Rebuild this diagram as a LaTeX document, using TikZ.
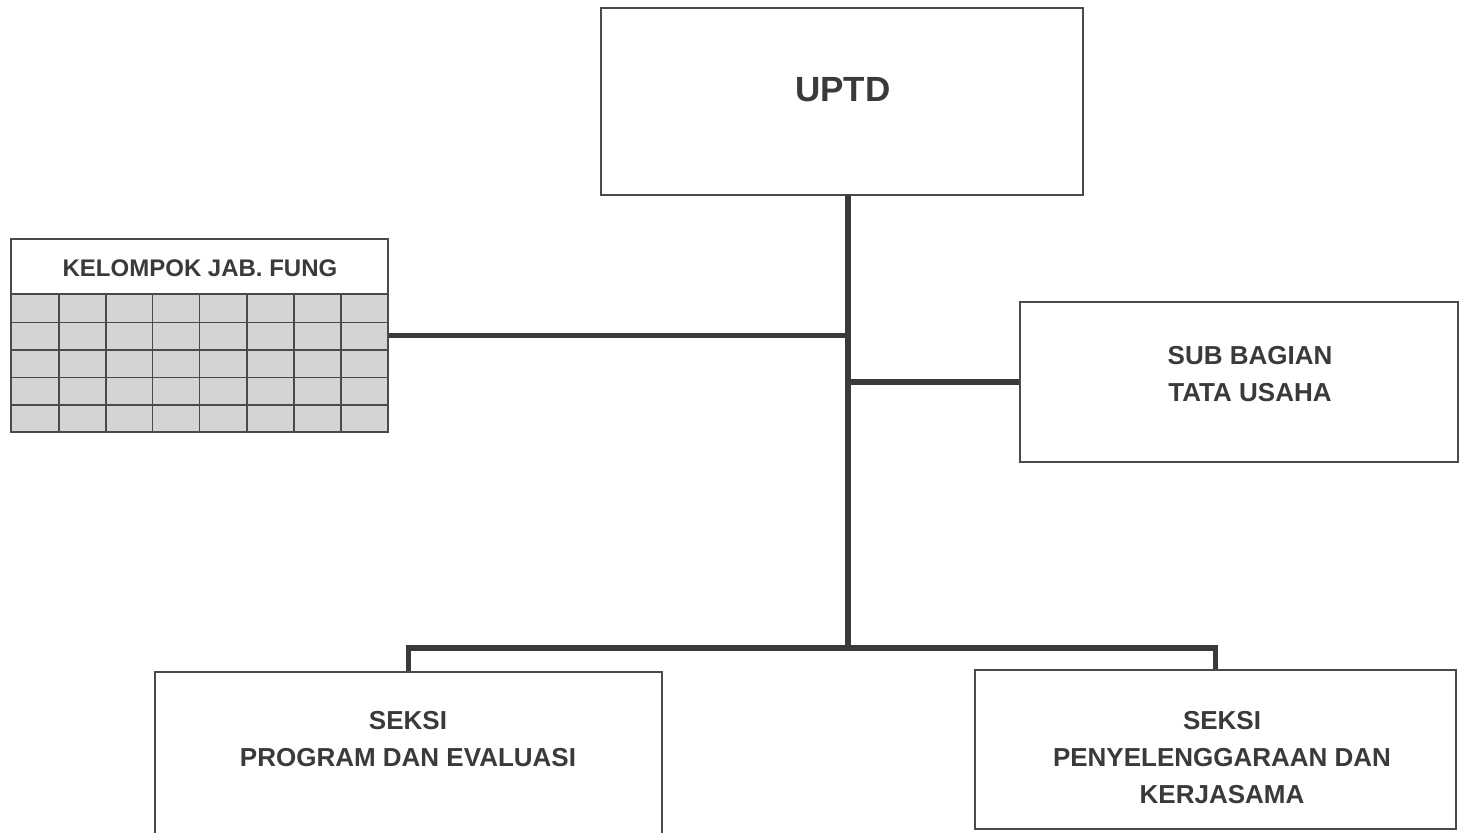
\documentclass[tikz,border=0pt]{standalone}
\usepackage{fontspec}
\setmainfont{Liberation Sans}
\definecolor{ink}{HTML}{3A3A3A}
\definecolor{edge}{HTML}{4A4A4A}
\definecolor{cell}{HTML}{D4D4D4}
\begin{document}
\begin{tikzpicture}[x=0.5pt,y=-0.5pt,
  box/.style={draw=edge,line width=1pt,fill=white,rectangle,inner sep=0pt},
  txt/.style={text=ink,font=\bfseries\fontsize{13}{18.5}\selectfont,align=center,inner sep=0pt},
  conn/.style={draw=ink,line width=2.6pt,line cap=butt},
  gridline/.style={draw=edge,line width=0.9pt}]
\useasboundingbox[fill=white] (0,0) rectangle (1459,832);
% boxes
\node[box,minimum width=241pt,minimum height=93.5pt] (uptd) at (842,101.5) {};
\node[box,minimum width=188.5pt,minimum height=96.5pt] (kel) at (199.5,335.5) {};
\node[box,minimum width=219pt,minimum height=80pt] (sub) at (1239,382) {};
\node[box,minimum width=253.5pt,minimum height=82pt] (prog) at (408.5,754) {};
\node[box,minimum width=240.5pt,minimum height=79.5pt] (peny) at (1215.5,749.5) {};
% grid in KELOMPOK box
\fill[cell] (11,294) rectangle (388,432);
\foreach \yy in {294,322.5,350,377.5,405} \draw[gridline] (11,\yy) -- (388,\yy);
\foreach \xx in {59,106,152.5,199.5,247,294,341} \draw[gridline] (\xx,294) -- (\xx,432);
\draw[draw=edge,line width=1pt] (11,239) rectangle (388,432);
% texts
\node[txt,font=\bfseries\fontsize{17.5}{20}\selectfont] (tu) at (843,90) {UPTD};
\node[txt,font=\bfseries\fontsize{12}{14}\selectfont] (tk) at (200,268) {KELOMPOK JAB. FUNG};
\node[txt] (ts) at (1250,374) {SUB BAGIAN\\ TATA USAHA};
\node[txt] (tp) at (408,739) {SEKSI\\ PROGRAM DAN EVALUASI};
\node[txt] (tq) at (1222,758) {SEKSI\\ PENYELENGGARAAN DAN\\ KERJASAMA};
% connectors
\coordinate (top) at (848,195);
\coordinate (bus) at (848,648);
\draw[conn] (top) -- (bus);
\draw[conn] (kel.east) -- (kel.east -| top);
\draw[conn] (sub.west) -- (sub.west -| top);
\draw[conn] (prog.north) |- (bus) -| (peny.north);
\end{tikzpicture}
\end{document}
